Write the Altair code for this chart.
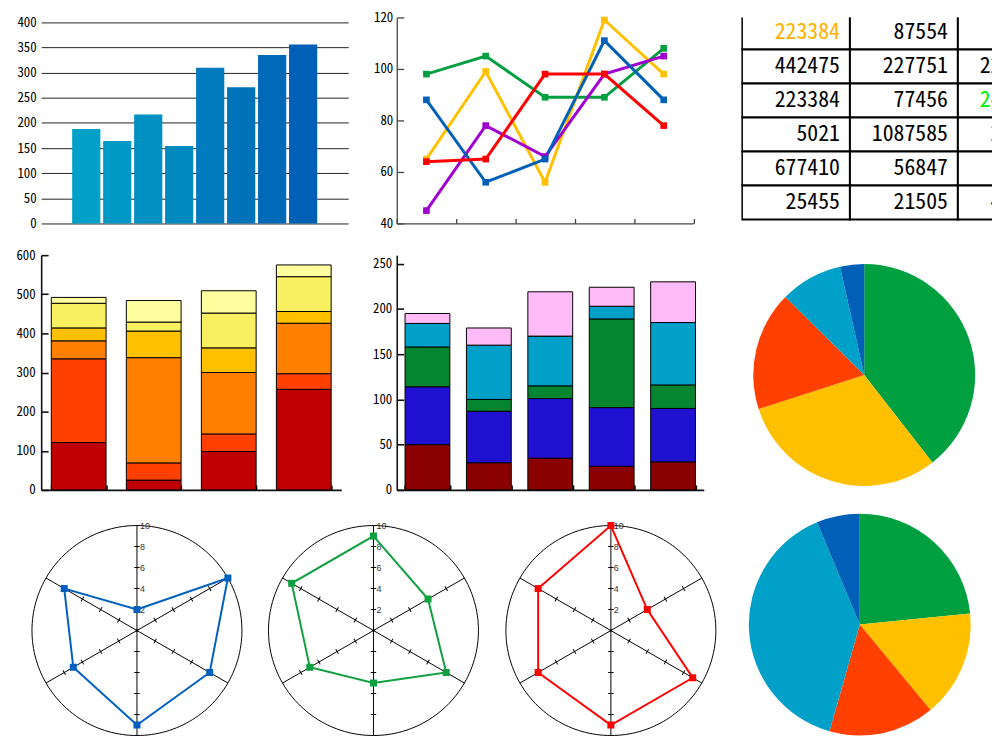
import altair as alt
import pandas as pd

MONO = "'Noto Sans Mono CJK JP', 'DejaVu Sans Mono', monospace"

# ---------------- data ----------------
bar_categories = ["a1", "a2", "a3", "a4", "a5", "a6", "a7", "a8"]
bar_values = [188, 164, 217, 154, 310, 271, 335, 356]

line_categories = ["c1", "c2", "c3", "c4", "c5"]
line_names = ["green", "yellow", "purple", "blue", "red"]
line_green = [98, 105, 89, 89, 108]
line_yellow = [65, 99, 56, 119, 98]
line_purple = [45, 78, 66, 98, 105]
line_blue = [88, 56, 65, 111, 88]
line_red = [64, 65, 98, 98, 78]

table_col1 = ["223384", "442475", "223384", "5021", "677410", "25455"]
table_col2 = ["87554", "227751", "77456", "1087585", "56847", "21505"]
table_col3 = ["63520", "2284510", "2476130", "265480", "45120", "415730"]

warm_categories = ["w1", "w2", "w3", "w4"]
warm_s1 = [121, 25, 98, 257]
warm_s2 = [214, 44, 45, 40]
warm_s3 = [46, 269, 157, 129]
warm_s4 = [33, 68, 63, 30]
warm_s5 = [63, 23, 89, 89]
warm_s6 = [15, 55, 57, 30]

multi_categories = ["m1", "m2", "m3", "m4", "m5"]
multi_s1 = [50, 30, 35, 26, 31]
multi_s2 = [64, 57, 66, 65, 59]
multi_s3 = [44, 13, 14, 98, 26]
multi_s4 = [26, 60, 55, 14, 69]
multi_s5 = [11, 19, 49, 21, 45]

pie_names = ["green", "yellow", "red", "cyan", "blue"]
pie1_values = [39.5, 30.6, 17.4, 9.1, 3.5]
pie2_values = [23.4, 15.6, 15.4, 39.3, 6.3]

radar_spoke_angles = [90, 30, -30, -90, -150, 150]
radar_tick_values = [2, 4, 6, 8]
radar_label_values = [2, 4, 6, 8, 10]
radar1_values = [2, 10, 8, 9, 7, 8]
radar2_values = [9, 6, 8, 5, 7, 9]
radar3_values = [10, 4, 9, 9, 8, 8]

# ---------------- styles ----------------
bar_colors = ["#00A0C8", "#0099C5", "#0091C2", "#0089BF", "#007BBD", "#0072BA", "#0069B8", "#0060B6"]
line_colors = ["#00A040", "#FFC000", "#A000D0", "#0060B8", "#FF0000"]
warm_colors = ["#C00000", "#FF4000", "#FF8000", "#FFC000", "#F8F060", "#FFFFA0"]
multi_colors = ["#8B0000", "#2010D0", "#068530", "#00A0C8", "#FFBBF8"]
pie_colors = ["#00A040", "#FFC000", "#FF4000", "#00A0C8", "#0060B8"]

# column grid (flush bounds, zero spacing): each view starts where the previous one ends
COL1_W = 359
COL2_W = 348
COL3_W = 253


def neg(v):
    return alt.ExprRef(expr=str(-v))


# ---------------- bar chart ----------------
df_bar = pd.DataFrame({"cat": bar_categories, "value": bar_values})
p1 = alt.Chart(df_bar).mark_bar().encode(
    x=alt.X("cat:N", sort=bar_categories, axis=None,
            scale=alt.Scale(paddingInner=0.09, paddingOuter=1, range=[0, 310])),
    y=alt.Y("value:Q", title=None, scale=alt.Scale(domain=[0, 409.85], nice=False),
            axis=alt.Axis(values=list(range(0, 401, 50)), grid=True, gridColor="#222",
                          gridWidth=1, domain=False, ticks=False, tickSize=0, labelPadding=5)),
    color=alt.Color("cat:N", scale=alt.Scale(domain=bar_categories, range=bar_colors), legend=None),
).properties(width=COL1_W, height=208)

# ---------------- line chart ----------------
line_rows = []
for name, vals in zip(line_names, [line_green, line_yellow, line_purple, line_blue, line_red]):
    for x, v in zip(line_categories, vals):
        line_rows.append({"series": name, "x": x, "v": v})
df_line = pd.DataFrame(line_rows)
p2 = alt.Chart(df_line).mark_line(
    strokeWidth=3,
    point=alt.OverlayMarkDef(shape="square", filled=True, size=45, opacity=1),
).encode(
    x=alt.X("x:N", title=None,
            scale=alt.Scale(type="band", paddingInner=0, paddingOuter=0, domain=line_categories,
                            range=[0, 299.5]),
            axis=alt.Axis(labels=False, grid=False, tickBand="extent", tickSize=neg(5),
                          domainColor="#444", tickColor="#444", domainWidth=1.3, tickWidth=1.3)),
    y=alt.Y("v:Q", title=None, scale=alt.Scale(domain=[40, 120], nice=False),
            axis=alt.Axis(values=[40, 60, 80, 100, 120], grid=False, tickSize=neg(7), labelPadding=11,
                          domainColor="#444", tickColor="#444", domainWidth=1.3, tickWidth=1.3)),
    color=alt.Color("series:N", sort=line_names,
                    scale=alt.Scale(domain=line_names, range=line_colors), legend=None),
).properties(width=COL2_W, height=208)

# ---------------- table ----------------
cells = []
for ci, colvals in enumerate([table_col1, table_col2, table_col3]):
    for ri, t in enumerate(colvals):
        c = "black"
        if ri == 0 and ci == 0:
            c = "#FFB000"
        if ri == 2 and ci == 2:
            c = "#00EE00"
        cells.append({"col": ci, "row": ri, "text": t, "tcolor": c})
df_tab = pd.DataFrame(cells)
tx = alt.Scale(domain=[-0.005, -0.005 + COL3_W / 109], nice=False, zero=False)
ty = alt.Scale(domain=[0.058, 6.117], nice=False, zero=False, reverse=True)
tbase = alt.Chart(df_tab).transform_calculate(
    c2="datum.col + 1", r2="datum.row + 1", rm="datum.row + 0.5")
trect = tbase.mark_rect(fill="white", stroke="black", strokeWidth=2, clip=True).encode(
    x=alt.X("col:Q", scale=tx, axis=None), x2="c2:Q",
    y=alt.Y("row:Q", scale=ty, axis=None), y2="r2:Q")
ttext = tbase.mark_text(align="right", baseline="middle", dx=-10, fontSize=22, font=MONO,
                        clip=True).encode(
    x=alt.X("c2:Q", scale=tx, axis=None), y=alt.Y("rm:Q", scale=ty, axis=None),
    text="text:N", color=alt.Color("tcolor:N", scale=None))
ptab = alt.layer(trect, ttext).properties(width=COL3_W, height=208)


# ---------------- stacked bars ----------------
def stacked(categories, series, colors, ymax, yvals, width, height, lpad, xrange):
    rows = []
    for si, vals in enumerate(series):
        for c, v in zip(categories, vals):
            rows.append({"cat": c, "series": f"s{si}", "idx": si, "value": v})
    df = pd.DataFrame(rows)
    return alt.Chart(df).mark_bar(stroke="black", strokeWidth=1).encode(
        x=alt.X("cat:N", sort=categories, title=None,
                scale=alt.Scale(paddingInner=0.27, paddingOuter=0.135, range=xrange),
                axis=alt.Axis(labels=False, grid=False, tickBand="extent", tickSize=neg(5),
                              domainColor="#111", tickColor="#111", domainWidth=1.6, tickWidth=1.6)),
        y=alt.Y("value:Q", stack="zero", title=None, scale=alt.Scale(domain=[0, ymax], nice=False),
                axis=alt.Axis(values=yvals, grid=False, tickSize=neg(7), labelPadding=lpad,
                              domainColor="#111", tickColor="#111", domainWidth=1.6, tickWidth=1.6)),
        color=alt.Color("series:N", scale=alt.Scale(domain=[f"s{i}" for i in range(len(series))],
                                                    range=colors), legend=None),
        order=alt.Order("idx:Q", sort="ascending"),
    ).properties(width=width, height=height)


p4 = stacked(warm_categories, [warm_s1, warm_s2, warm_s3, warm_s4, warm_s5, warm_s6], warm_colors,
             600, list(range(0, 601, 100)), COL1_W, 237, 13, [0, 303])
p5 = stacked(multi_categories, [multi_s1, multi_s2, multi_s3, multi_s4, multi_s5], multi_colors,
             259.5, list(range(0, 251, 50)), COL2_W, 237, 12, [0, 310])


# ---------------- pies ----------------
def pie_df(values):
    return pd.DataFrame({"name": pie_names, "value": values, "idx": list(range(len(values)))})


pie_color = alt.Color("name:N", scale=alt.Scale(domain=pie_names, range=pie_colors), legend=None)
pie1 = alt.Chart(pie_df(pie1_values)).mark_arc(outerRadius=112).encode(
    theta=alt.Theta("value:Q", stack=True), color=pie_color,
    order=alt.Order("idx:Q", sort="ascending"),
).properties(width=248, height=242)


# ---------------- radars ----------------
def radar(values, color, xmin, width, extra_pie=None):
    xs = alt.Scale(domain=[xmin, xmin + width / 10.6], nice=False, zero=False)
    ys = alt.Scale(domain=[-10, 9.9057], nice=False, zero=False)

    def X(f):
        return alt.X(f, type="quantitative", scale=xs, axis=None)

    def Y(f):
        return alt.Y(f, type="quantitative", scale=ys, axis=None)

    circle = alt.Chart(alt.sequence(0, 362, 2, as_="deg")).transform_calculate(
        cx="10*cos(datum.deg*PI/180)", cy="10*sin(datum.deg*PI/180)"
    ).mark_line(color="black", strokeWidth=1).encode(x=X("cx"), y=Y("cy"), order="deg:Q")

    spokes = alt.Chart(pd.DataFrame({"angle": radar_spoke_angles[:3]})).transform_calculate(
        x1="10*cos(datum.angle*PI/180)", y1="10*sin(datum.angle*PI/180)",
        x2="-10*cos(datum.angle*PI/180)", y2="-10*sin(datum.angle*PI/180)"
    ).mark_rule(color="black", strokeWidth=1).encode(x=X("x1"), y=Y("y1"), x2="x2:Q", y2="y2:Q")

    trows = [{"angle": a, "r": r} for a in radar_spoke_angles for r in radar_tick_values]
    ticks = alt.Chart(pd.DataFrame(trows)).transform_calculate(
        tx="datum.r*cos(datum.angle*PI/180)", ty="datum.r*sin(datum.angle*PI/180)",
        rot="((90 - datum.angle) % 180 + 180) % 180"
    ).mark_point(shape="stroke", size=30, color="black", strokeWidth=1, opacity=1).encode(
        x=X("tx"), y=Y("ty"), angle=alt.Angle("rot:Q", scale=None))

    labels = alt.Chart(pd.DataFrame({"r": radar_label_values})).transform_calculate(
        lx="0", ly="datum.r", t="'' + datum.r"
    ).mark_text(align="left", baseline="middle", dx=3, fontSize=9, font="Liberation Sans",
                color="#333").encode(x=X("lx"), y=Y("ly"), text="t:N")

    center = alt.Chart(pd.DataFrame({"c": [0]})).mark_point(
        filled=True, size=6, color="black", opacity=1).encode(x=X("c"), y=Y("c"))

    d = pd.DataFrame({"spoke": list(range(6)), "angle": radar_spoke_angles, "value": values})
    pb = alt.Chart(d).transform_calculate(
        px="datum.value*cos(datum.angle*PI/180)", py="datum.value*sin(datum.angle*PI/180)"
    ).encode(x=X("px"), y=Y("py"), order="spoke:Q")
    poly = pb.mark_line(interpolate="linear-closed", color=color, strokeWidth=2)
    pts = pb.mark_point(shape="square", filled=True, size=50, color=color, opacity=1)
    layers = [circle, spokes, ticks, labels, center, poly, pts]
    if extra_pie is not None:
        pvals, pcx, pcy = extra_pie
        layers.append(alt.Chart(pie_df(pvals)).mark_arc(outerRadius=112).encode(
            x=alt.X(datum=pcx, type="quantitative", scale=xs, axis=None),
            y=alt.Y(datum=pcy, type="quantitative", scale=ys, axis=None),
            theta=alt.Theta("value:Q", stack=True), color=pie_color,
            order=alt.Order("idx:Q", sort="ascending")))
    return alt.layer(*layers).properties(width=width, height=211)


# view origins follow the column grid; domains put each radar centre in place
r1 = radar(radar1_values, "#0060C0", -9.1226, COL1_W)
r2 = radar(radar2_values, "#10A040", 2.217, COL2_W)
r3 = radar(radar3_values, "#FF0000", 12.434, COL3_W, extra_pie=(pie2_values, 23.708, 0.566))

chart = alt.concat(
    p1, p2, ptab,
    p4, p5, pie1,
    r1, r2, r3,
    columns=3, spacing={"row": 32, "column": 0}, bounds="flush", align="each",
).resolve_scale(color="independent", theta="independent").properties(
    padding={"left": 7.5, "top": 0, "right": 0, "bottom": 0}, background="white"
).configure_view(stroke=None).configure_axis(
    labelFont=MONO, labelFontSize=13, labelColor="black", titleFont=MONO
)

chart.save("out.html", embed_options={"renderer": "svg", "actions": False})
